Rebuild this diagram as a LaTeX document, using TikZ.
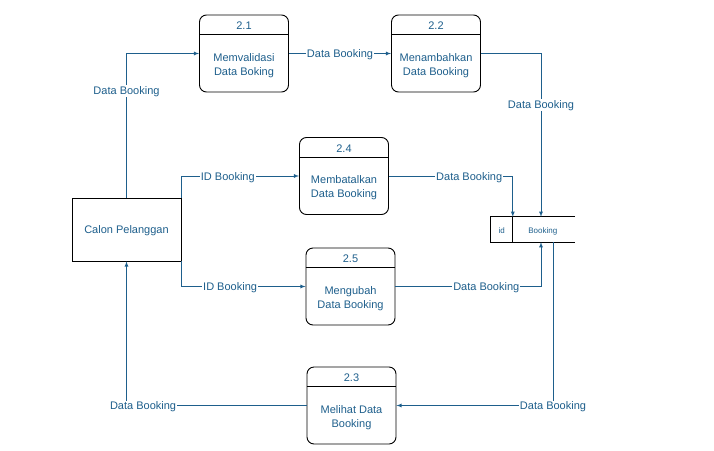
\documentclass[tikz,border=0pt]{standalone}
\usepackage{fontspec}
\setmainfont{Liberation Sans}
\usetikzlibrary{arrows}
\definecolor{biru}{RGB}{30,95,140}

\begin{document}
\begin{tikzpicture}[x = 1pt, y = -1pt, >=latex]
\tikzstyle{Proses}=[draw, rounded corners = 7pt, minimum width = 89pt, minimum height = 77pt, inner sep = 0pt, line width = 0.9pt]
\tikzstyle{Teks}=[text = biru, font = \fontsize{11}{13.7}\selectfont, align = center, inner sep = 1pt, yshift = -1.5pt]
\tikzstyle{Kecil}=[Teks, font = \fontsize{8}{10}\selectfont]
\tikzstyle{Label}=[Teks, fill = white]
\tikzstyle{Alur}=[draw = biru, line width = 0.8pt, ->]
\tikzstyle{Garis}=[line width = 0.9pt]
\useasboundingbox (0,0) rectangle (714,450);
\node[Proses] (p21) at (244,53.5) {};
\draw[Garis] ([yshift = -20pt]p21.north west) -- ([yshift = -20pt]p21.north east);
\node[Teks] (n21) at ([yshift = -10pt]p21.north) {2.1};
\node[Teks] (t21) at ([yshift = -10.5pt]p21.center) {Memvalidasi\\Data Boking};
\node[Proses] (p22) at (436,53.5) {};
\draw[Garis] ([yshift = -20pt]p22.north west) -- ([yshift = -20pt]p22.north east);
\node[Teks] (n22) at ([yshift = -10pt]p22.north) {2.2};
\node[Teks] (t22) at ([yshift = -10.5pt]p22.center) {Menambahkan\\Data Booking};
\node[Proses] (p24) at (344,176) {};
\draw[Garis] ([yshift = -20pt]p24.north west) -- ([yshift = -20pt]p24.north east);
\node[Teks] (n24) at ([yshift = -10pt]p24.north) {2.4};
\node[Teks] (t24) at ([yshift = -10.5pt]p24.center) {Membatalkan\\Data Booking};
\node[Proses] (p25) at (350.5,286.5) {};
\draw[Garis] ([yshift = -20pt]p25.north west) -- ([yshift = -20pt]p25.north east);
\node[Teks] (n25) at ([yshift = -10pt]p25.north) {2.5};
\node[Teks] (t25) at ([yshift = -10.5pt]p25.center) {Mengubah\\Data Booking};
\node[Proses] (p23) at (351.5,405.5) {};
\draw[Garis] ([yshift = -20pt]p23.north west) -- ([yshift = -20pt]p23.north east);
\node[Teks] (n23) at ([yshift = -10pt]p23.north) {2.3};
\node[Teks] (t23) at ([yshift = -10.5pt]p23.center) {Melihat Data\\Booking};
\node[draw, Garis, minimum width = 109pt, minimum height = 63pt] (calon) at (126.5,229.5) {};
\node[Teks] (tcalon) at (calon.center) {Calon Pelanggan};
\node[minimum width = 84pt, minimum height = 25pt, inner sep = 0pt] (ds) at (533,229.5) {};
\draw[Garis] (ds.north east) -- (ds.north west) -- (ds.south west) -- (ds.south east);
\draw[Garis] ([xshift = 22pt]ds.north west) -- ([xshift = 22pt]ds.south west);
\node[Kecil] (dsid) at ([xshift = 11pt]ds.west) {id};
\node[Kecil] (dsnama) at ([xshift = 52pt]ds.west) {Booking};
\draw[Alur] (calon.north) |- node[Label, pos = 0.374] {Data Booking} (p21.west);
\draw[Alur] (p21.east) -- node[Label] {Data Booking} (p22.west);
\draw[Alur] (p22.east) -| node[Label, pos = 0.654] {Data Booking} ([xshift = 8pt]ds.north);
\draw[Alur] (calon.north east) |- node[Label, pos = 0.697] {ID Booking} (p24.west);
\draw[Alur] (calon.south east) |- node[Label, pos = 0.696] {ID Booking} (p25.west);
\draw[Alur] (p24.east) -| node[Label, pos = 0.324] {Data Booking} ([xshift = 22pt]ds.north west);
\draw[Alur] (p25.east) -| node[Label, pos = 0.312] {Data Booking} ([xshift = 8pt]ds.south);
\draw[Alur] ([xshift = 20pt]ds.south) |- node[Label, pos = 0.5] {Data Booking} (p23.east);
\draw[Alur] (p23.west) -| node[Label, pos = 0.454] {Data Booking} (calon.south);
\end{tikzpicture}
\end{document}
